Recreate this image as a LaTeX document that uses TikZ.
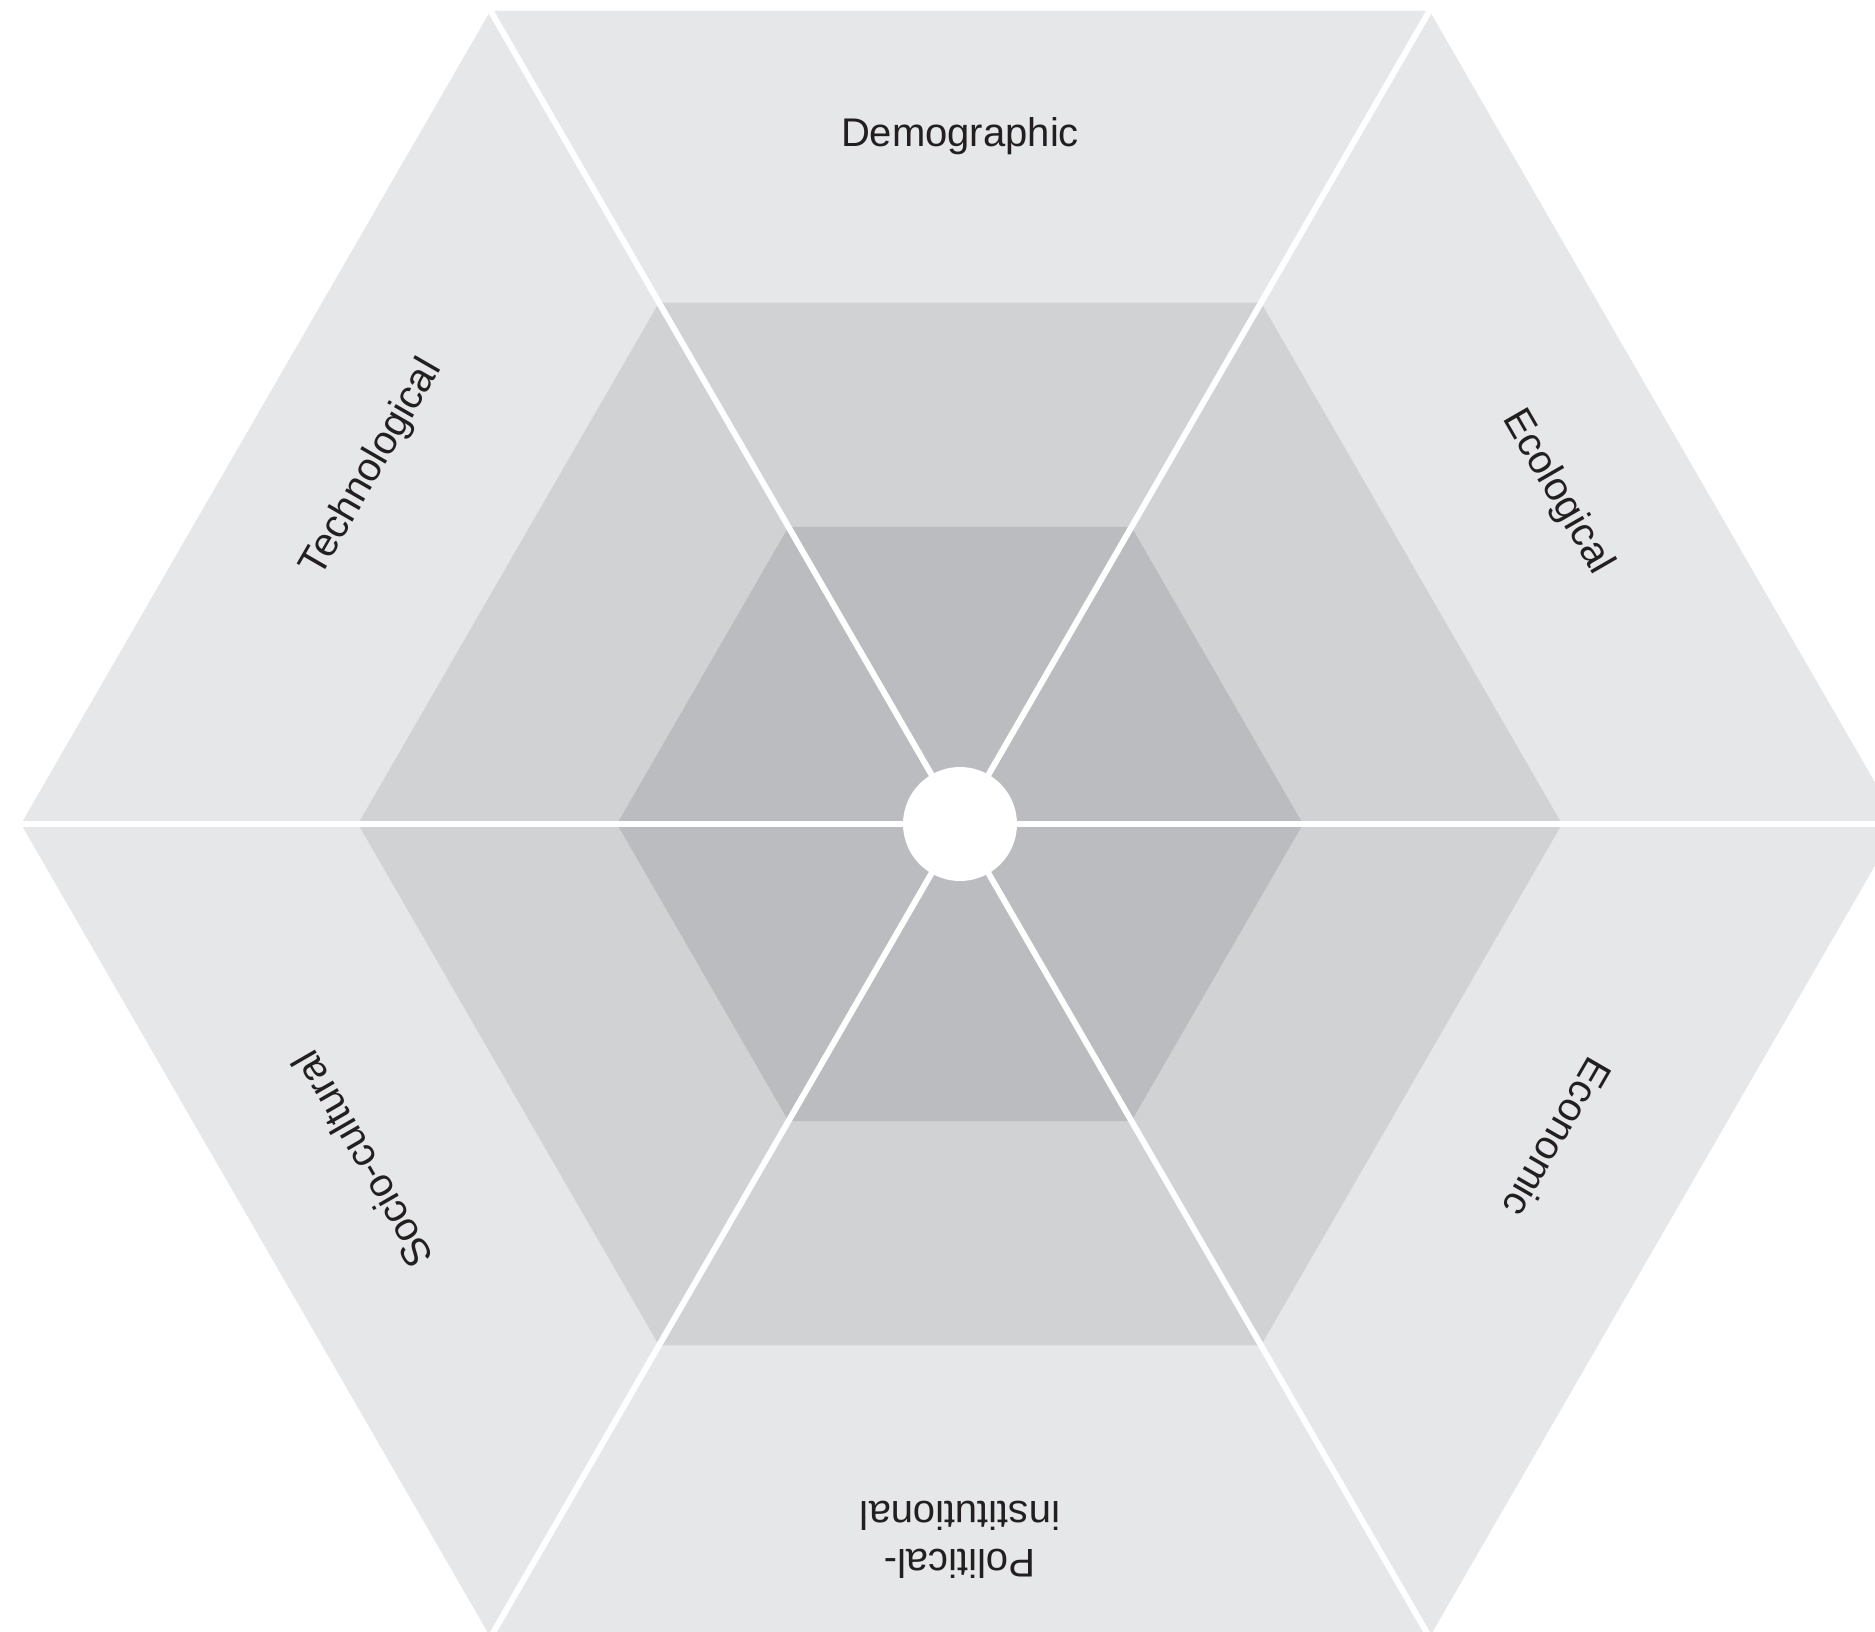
\documentclass[tikz,border=0pt]{standalone}
\usepackage{fontspec}
\setmainfont{Liberation Sans}
\definecolor{outerc}{HTML}{E6E7E8}
\definecolor{midc}{HTML}{D1D2D4}
\definecolor{innerc}{HTML}{BBBCBF}
\definecolor{textc}{HTML}{231F20}
\begin{document}
\begin{tikzpicture}[x=1pt,y=-1pt,
  lab/.style={font=\fontsize{40}{48}\selectfont, text=textc, inner sep=0pt, align=center},
  spoke/.style={draw=white, line width=6pt}]
\useasboundingbox (0,0) rectangle (1875,1632);
\clip (0,0) rectangle (1875,1632);
\fill[white] (0,0) rectangle (1875,1632);
\begin{scope}[shift={(960,824)}]
  \coordinate (c) at (0,0);
  \fill[outerc] (0:939) -- (60:939) -- (120:939) -- (180:939) -- (240:939) -- (300:939) -- cycle;
  \fill[midc] (0:602) -- (60:602) -- (120:602) -- (180:602) -- (240:602) -- (300:602) -- cycle;
  \fill[innerc] (0:343) -- (60:343) -- (120:343) -- (180:343) -- (240:343) -- (300:343) -- cycle;
  \foreach \a in {0,60,...,300} {
    \coordinate (v\a) at (\a:945);
    \draw[spoke] (c) -- (v\a);
  }
  \fill[white] (c) circle (57);
\end{scope}
\node[lab] (demo) at (960,136) {Demographic};
\node[lab, rotate=-60] (eco) at (1557,492) {Ecological};
\node[lab, rotate=-120] (econ) at (1558,1138) {Economic};
\node[lab, rotate=180] (pol) at (960,1540) {Political-\\institutional};
\node[lab, rotate=120] (soc) at (362,1160) {Socio-cultural};
\node[lab, rotate=60] (tech) at (372,468) {Technological};
\end{tikzpicture}
\end{document}
